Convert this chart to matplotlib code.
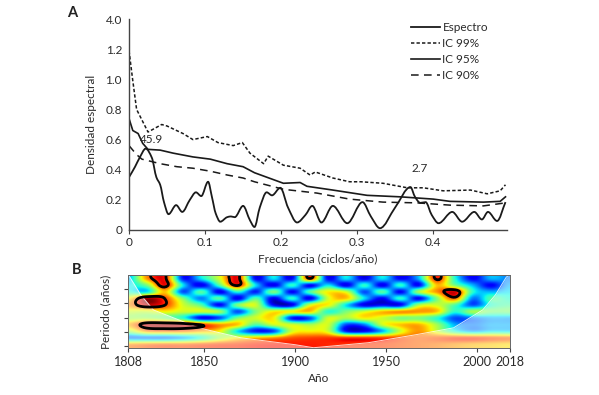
import numpy as np
import matplotlib
matplotlib.use("Agg")
import matplotlib.pyplot as plt
from matplotlib.path import Path
from matplotlib.patches import PathPatch
from matplotlib.lines import Line2D

plt.rcParams['font.family'] = ['Lato', 'DejaVu Sans']
TXT = '#2a2a2a'

# ---------------- Panel A data ----------------
spec_f = [0.0, 0.008, 0.014, 0.022, 0.030, 0.036, 0.041, 0.046, 0.052, 0.062, 0.070, 0.080,
          0.088, 0.095, 0.104, 0.109, 0.114, 0.120, 0.129, 0.134, 0.139, 0.150, 0.159, 0.165,
          0.172, 0.181, 0.188, 0.199, 0.209, 0.221, 0.232, 0.241, 0.253, 0.268, 0.287, 0.307,
          0.318, 0.330, 0.350, 0.370, 0.376, 0.383, 0.390, 0.398, 0.407, 0.425, 0.438, 0.454,
          0.464, 0.472, 0.484, 0.495]
spec_v = [0.35, 0.42, 0.48, 0.54, 0.48, 0.35, 0.30, 0.185, 0.105, 0.165, 0.12, 0.20,
          0.25, 0.225, 0.32, 0.22, 0.11, 0.055, 0.085, 0.09, 0.085, 0.16, 0.065, 0.02,
          0.15, 0.25, 0.23, 0.28, 0.15, 0.05, 0.10, 0.16, 0.05, 0.16, 0.045, 0.185,
          0.09, 0.012, 0.15, 0.285, 0.22, 0.18, 0.185, 0.10, 0.045, 0.12, 0.055, 0.12,
          0.07, 0.12, 0.06, 0.185]

ic99_f = [0.0, 0.005, 0.010, 0.025, 0.043, 0.050, 0.071, 0.084, 0.103, 0.117, 0.137, 0.149,
          0.159, 0.177, 0.183, 0.203, 0.225, 0.238, 0.245, 0.268, 0.290, 0.305, 0.334, 0.366,
          0.387, 0.413, 0.449, 0.471, 0.488, 0.495]
ic99_v = [1.19, 0.99, 0.80, 0.65, 0.70, 0.69, 0.64, 0.60, 0.62, 0.58, 0.56, 0.58,
          0.51, 0.44, 0.49, 0.43, 0.41, 0.365, 0.385, 0.345, 0.32, 0.32, 0.31, 0.28,
          0.28, 0.26, 0.265, 0.24, 0.26, 0.30]

ic95_f = [0.0, 0.005, 0.012, 0.018, 0.025, 0.041, 0.058, 0.084, 0.107, 0.129, 0.150, 0.165,
          0.203, 0.225, 0.234, 0.268, 0.313, 0.357, 0.400, 0.422, 0.466, 0.488, 0.495]
ic95_v = [0.74, 0.66, 0.64, 0.575, 0.535, 0.53, 0.51, 0.485, 0.47, 0.44, 0.42, 0.38,
          0.31, 0.315, 0.29, 0.265, 0.23, 0.22, 0.205, 0.19, 0.185, 0.19, 0.22]

ic90_f = [0.0, 0.010, 0.017, 0.041, 0.063, 0.084, 0.107, 0.129, 0.150, 0.165, 0.203, 0.247,
          0.290, 0.334, 0.379, 0.422, 0.466, 0.495]
ic90_v = [0.56, 0.50, 0.47, 0.44, 0.42, 0.41, 0.39, 0.365, 0.345, 0.32, 0.27, 0.245,
          0.205, 0.185, 0.18, 0.165, 0.16, 0.18]

yticks_a = [0, 0.2, 0.4, 0.6, 0.8, 1.0, 1.2, 1.4]
ytick_labels_a = ['0', '0.2', '0.4', '0.6', '0.8', '1.0', '1.2', '4.0']
xticks_a = [0, 0.1, 0.2, 0.3, 0.4]
xtick_labels_a = ['0', '0.1', '0.2', '0.3', '0.4']
legend_labels = ['Espectro', 'IC 99%', 'IC 95%', 'IC 90%']
peak_labels = ['45.9', '2.7']
peak_pos_f = [0.0145, 0.372]
peak_pos_v = [0.60, 0.41]

# ---------------- Panel B data ----------------
years_cols = [1808, 1818, 1828, 1838, 1848, 1858, 1868, 1878, 1888, 1898, 1908,
              1918, 1928, 1938, 1948, 1958, 1968, 1978, 1988, 1998, 2008, 2018]
log2_rows = [1.23, 1.70, 2.17, 2.64, 3.10, 3.57, 4.04, 4.50, 4.97, 5.44, 5.91]
power = np.array([
    [0.30, 0.75, 0.88, 0.15, 0.35, 0.60, 0.90, 0.12, 0.35, 0.12, 0.85, 0.12, 0.35, 0.10, 0.35, 0.12, 0.30, 0.87, 0.40, 0.12, 0.30, 0.25],
    [0.35, 0.50, 0.90, 0.35, 0.10, 0.45, 0.87, 0.35, 0.10, 0.40, 0.12, 0.35, 0.10, 0.40, 0.10, 0.40, 0.12, 0.70, 0.50, 0.30, 0.12, 0.30],
    [0.40, 0.35, 0.70, 0.20, 0.45, 0.10, 0.40, 0.15, 0.50, 0.12, 0.45, 0.65, 0.60, 0.20, 0.45, 0.12, 0.55, 0.75, 0.92, 0.40, 0.30, 0.35],
    [0.65, 0.95, 0.84, 0.50, 0.25, 0.45, 0.10, 0.45, 0.10, 0.40, 0.10, 0.60, 0.70, 0.35, 0.12, 0.40, 0.12, 0.50, 0.80, 0.25, 0.45, 0.40],
    [0.75, 0.93, 0.85, 0.60, 0.45, 0.12, 0.50, 0.60, 0.12, 0.10, 0.60, 0.65, 0.35, 0.10, 0.12, 0.12, 0.55, 0.60, 0.45, 0.20, 0.40, 0.45],
    [0.60, 0.60, 0.65, 0.60, 0.60, 0.55, 0.20, 0.50, 0.65, 0.65, 0.70, 0.40, 0.50, 0.60, 0.70, 0.75, 0.75, 0.70, 0.40, 0.55, 0.50, 0.50],
    [0.55, 0.55, 0.50, 0.40, 0.12, 0.20, 0.50, 0.60, 0.65, 0.15, 0.20, 0.60, 0.55, 0.65, 0.60, 0.50, 0.50, 0.40, 0.20, 0.25, 0.30, 0.30],
    [0.72, 0.93, 0.95, 0.93, 0.86, 0.75, 0.70, 0.45, 0.60, 0.60, 0.55, 0.60, 0.20, 0.25, 0.60, 0.70, 0.72, 0.55, 0.30, 0.25, 0.30, 0.30],
    [0.55, 0.75, 0.78, 0.78, 0.72, 0.65, 0.35, 0.15, 0.20, 0.60, 0.65, 0.60, 0.15, 0.12, 0.30, 0.60, 0.75, 0.60, 0.40, 0.30, 0.35, 0.35],
    [0.25, 0.25, 0.25, 0.30, 0.40, 0.55, 0.65, 0.70, 0.75, 0.82, 0.84, 0.85, 0.85, 0.85, 0.84, 0.82, 0.80, 0.82, 0.85, 0.85, 0.82, 0.80],
    [0.75, 0.78, 0.80, 0.80, 0.82, 0.84, 0.85, 0.87, 0.88, 0.88, 0.88, 0.87, 0.86, 0.85, 0.84, 0.82, 0.80, 0.78, 0.75, 0.72, 0.70, 0.68],
])
background = [0.80, 0.80, 0.80, 0.80, 0.80, 0.80, 0.80, 0.82, 0.90, 1.00, 1.00]

coi_years = [1808, 1809, 1815, 1822, 1847, 1870, 1900, 1910, 1940, 1966, 1987, 2003, 2010, 2016, 2018]
coi_log2 = [1.0, 1.14, 2.40, 3.46, 4.72, 5.42, 5.91, 6.12, 5.77, 5.21, 4.72, 3.46, 2.40, 1.14, 1.0]

xticks_b = [1808, 1850, 1900, 1950, 2000, 2018]
yticks_b = [2, 3, 4, 5, 6]
ymin_b, ymax_b = 1.0, 6.14


# ---------------- helpers ----------------
def hermite_path(xs, ys):
    xs = np.asarray(xs, float); ys = np.asarray(ys, float)
    n = len(xs)
    m = np.zeros(n)
    for i in range(n):
        if i == 0:
            m[i] = (ys[1] - ys[0]) / (xs[1] - xs[0])
        elif i == n - 1:
            m[i] = (ys[-1] - ys[-2]) / (xs[-1] - xs[-2])
        else:
            d0 = (ys[i] - ys[i - 1]) / (xs[i] - xs[i - 1])
            d1 = (ys[i + 1] - ys[i]) / (xs[i + 1] - xs[i])
            m[i] = 0.0 if d0 * d1 <= 0 else 2 * d0 * d1 / (d0 + d1)
    verts = [(xs[0], ys[0])]
    codes = [Path.MOVETO]
    for i in range(n - 1):
        h = xs[i + 1] - xs[i]
        verts += [(xs[i] + h / 3, ys[i] + m[i] * h / 3),
                  (xs[i + 1] - h / 3, ys[i + 1] - m[i + 1] * h / 3),
                  (xs[i + 1], ys[i + 1])]
        codes += [Path.CURVE4] * 3
    return Path(verts, codes)


def cr_matrix(t, n):
    W = np.zeros((len(t), n))
    for k, tk in enumerate(t):
        i = int(np.floor(tk))
        i = min(max(i, -1), n - 1)
        u = tk - i
        w = [(-u**3 + 2*u**2 - u) / 2, (3*u**3 - 5*u**2 + 2) / 2,
             (-3*u**3 + 4*u**2 + u) / 2, (u**3 - u**2) / 2]
        for off, wv in zip((-1, 0, 1, 2), w):
            j = min(max(i + off, 0), n - 1)
            W[k, j] += wv
    return W


fig = plt.figure(figsize=(5.99, 3.95), dpi=100)

# ---------------- Panel A ----------------
axA = fig.add_axes([129/599, 1 - 230/395, 378/599, 211/395])
axA.add_patch(PathPatch(hermite_path(spec_f, spec_v), fill=False, lw=1.3, ec='#1a1a1a'))
axA.plot(ic99_f, ic99_v, color='#1a1a1a', lw=1.1, dashes=(2.2, 1.4))
axA.plot(ic95_f, ic95_v, color='#1a1a1a', lw=1.2)
axA.plot(ic90_f, ic90_v, color='#1a1a1a', lw=1.1, dashes=(5, 3.5))
for lab, fx, vy in zip(peak_labels, peak_pos_f, peak_pos_v):
    axA.text(fx, vy, lab, fontsize=8.5, color=TXT, ha='left', va='center')

axA.set_xlim(0, 0.497)
axA.set_ylim(0, 1.4)
axA.set_yticks(yticks_a)
axA.set_yticklabels(ytick_labels_a)
axA.set_xticks(xticks_a)
axA.set_xticklabels(xtick_labels_a)
axA.tick_params(axis='y', length=0, pad=5, labelsize=8.5, labelcolor=TXT)
axA.tick_params(axis='x', length=3, width=0.8, color='#444444', pad=2, labelsize=8.5, labelcolor=TXT)
for s in ('top', 'right'):
    axA.spines[s].set_visible(False)
for s in ('left', 'bottom'):
    axA.spines[s].set_color('#444444')
    axA.spines[s].set_linewidth(1.0)
axA.set_ylabel('Densidad espectral', fontsize=8.5, color=TXT, labelpad=6)
axA.set_xlabel('Frecuencia (ciclos/año)', fontsize=8.5, color=TXT, labelpad=4)

handles = [Line2D([], [], color='#1a1a1a', lw=1.3),
           Line2D([], [], color='#1a1a1a', lw=1.1, dashes=(2.2, 1.4)),
           Line2D([], [], color='#1a1a1a', lw=1.2),
           Line2D([], [], color='#1a1a1a', lw=1.1, dashes=(5, 3.5))]
leg = axA.legend(handles, legend_labels, loc='upper left', bbox_to_anchor=(0.745, 0.985),
                 frameon=False, fontsize=8.5, handlelength=2.5, handletextpad=0.2,
                 labelspacing=0.42, borderpad=0, borderaxespad=0)
for t in leg.get_texts():
    t.set_color(TXT)

fig.text(72/599, 1 - 13/395, 'A', fontsize=10.5, fontweight='bold', color='#222222', ha='center', va='center')

# ---------------- Panel B ----------------
axB = fig.add_axes([128/599, 1 - 348/395, 382/599, 73/395])
P = np.asarray(power)
nr, nc = P.shape
Wr = cr_matrix(np.linspace(-0.5, nr - 0.5, 111), nr)
Wc = cr_matrix(np.linspace(0, nc - 1, 211), nc)
fine = Wr @ P @ Wc.T
bg_fine = Wr @ np.asarray(background)
sig = fine / bg_fine[:, None]
xf = np.linspace(years_cols[0], years_cols[-1], 211)
yf = np.linspace(ymin_b, ymax_b, 111)

axB.imshow(np.clip(fine, 0, 1), cmap='jet', vmin=0.0, vmax=1.0, aspect='auto',
           extent=[years_cols[0], years_cols[-1], ymax_b, ymin_b], interpolation='bilinear', origin='upper')
axB.fill_between(coi_years, coi_log2, ymax_b, color='white', alpha=0.45, lw=0)
axB.plot(coi_years, coi_log2, color='white', lw=0.7, alpha=0.8)
axB.contour(xf, yf, sig, levels=[1.05], colors='black', linewidths=2.0)

axB.set_xlim(1808, 2018)
axB.set_ylim(ymax_b, ymin_b)
axB.set_xticks(xticks_b)
axB.set_xticklabels([str(v) for v in xticks_b])
axB.set_yticks(yticks_b)
axB.set_yticklabels([])
axB.tick_params(axis='both', length=3, width=0.8, color='#444444', labelsize=9, labelcolor=TXT, pad=3)
for s in axB.spines.values():
    s.set_color('#666666')
    s.set_linewidth(0.7)
axB.set_xlabel('Año', fontsize=8.5, color=TXT, labelpad=3)
axB.set_ylabel('Periodo (años)', fontsize=8.5, color=TXT, labelpad=6)
fig.text(77/599, 1 - 270/395, 'B', fontsize=10.5, fontweight='bold', color='#222222', ha='center', va='center')

fig.savefig('out.png', dpi=100)
